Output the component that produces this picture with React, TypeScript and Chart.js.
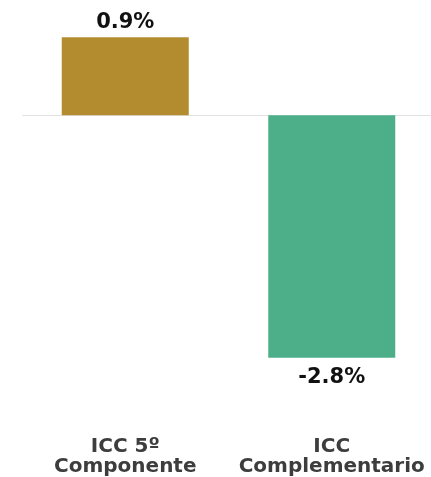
import React, { useEffect, useRef } from "react";
import { Chart, registerables } from "chart.js";

Chart.register(...registerables);

const categories: string[][] = [["ICC 5º", "Componente"], ["ICC", "Complementario"]];
const values: number[] = [0.9, -2.8];
const barColors: string[] = ["#B38C30", "#4DAF8A"];

export default function App() {
  const ref = useRef<HTMLCanvasElement | null>(null);

  useEffect(() => {
    if (!ref.current) return;

    const overlay = {
      id: "overlay",
      beforeDatasetsDraw(chart: any) {
        const { ctx, chartArea, scales } = chart;
        const y0 = scales.y.getPixelForValue(0);
        ctx.save();
        ctx.strokeStyle = "#e2e2e2";
        ctx.lineWidth = 1;
        ctx.beginPath();
        ctx.moveTo(chartArea.left, Math.round(y0) + 0.5);
        ctx.lineTo(chartArea.right, Math.round(y0) + 0.5);
        ctx.stroke();
        ctx.restore();
      },
      afterDatasetsDraw(chart: any) {
        const { ctx, chartArea, scales } = chart;
        const meta = chart.getDatasetMeta(0);
        ctx.save();
        ctx.textAlign = "center";
        ctx.textBaseline = "middle";
        ctx.fillStyle = "#111111";
        ctx.font = "bold 21px 'DejaVu Sans'";
        meta.data.forEach((bar: any, i: number) => {
          const v = values[i];
          const txt = v.toFixed(1) + "%";
          const y = v >= 0 ? bar.y - 15 : bar.y + 20;
          ctx.fillText(txt, bar.x, y);
        });
        ctx.font = "bold 20px 'DejaVu Sans'";
        ctx.fillStyle = "#3d3d3d";
        ctx.textBaseline = "alphabetic";
        categories.forEach((lines, i) => {
          const x = scales.x.getPixelForValue(i);
          lines.forEach((line, j) => {
            ctx.fillText(line, x, chartArea.bottom + 77 + j * 20);
          });
        });
        ctx.restore();
      },
    };

    const chart = new Chart(ref.current, {
      type: "bar",
      data: {
        labels: categories.map((c) => c.join(" ")),
        datasets: [
          {
            data: values,
            backgroundColor: barColors,
            borderWidth: 0,
            barPercentage: 0.615,
            categoryPercentage: 1,
          },
        ],
      },
      options: {
        animation: false,
        responsive: false,
        maintainAspectRatio: false,
        layout: { padding: { left: 22, right: 1, top: 20, bottom: 102 } },
        plugins: { legend: { display: false }, tooltip: { enabled: false } },
        scales: {
          x: { display: false },
          y: { display: false, min: -3.0, max: 1.1 },
        },
      },
      plugins: [overlay],
    });
    return () => chart.destroy();
  }, []);

  return (
    <div
      style={{
        position: "fixed",
        left: 0,
        top: 0,
        width: 431,
        height: 477,
        overflow: "hidden",
        background: "#ffffff",
      }}
    >
      <canvas ref={ref} width={436} height={477} style={{ display: "block" }} />
    </div>
  );
}
